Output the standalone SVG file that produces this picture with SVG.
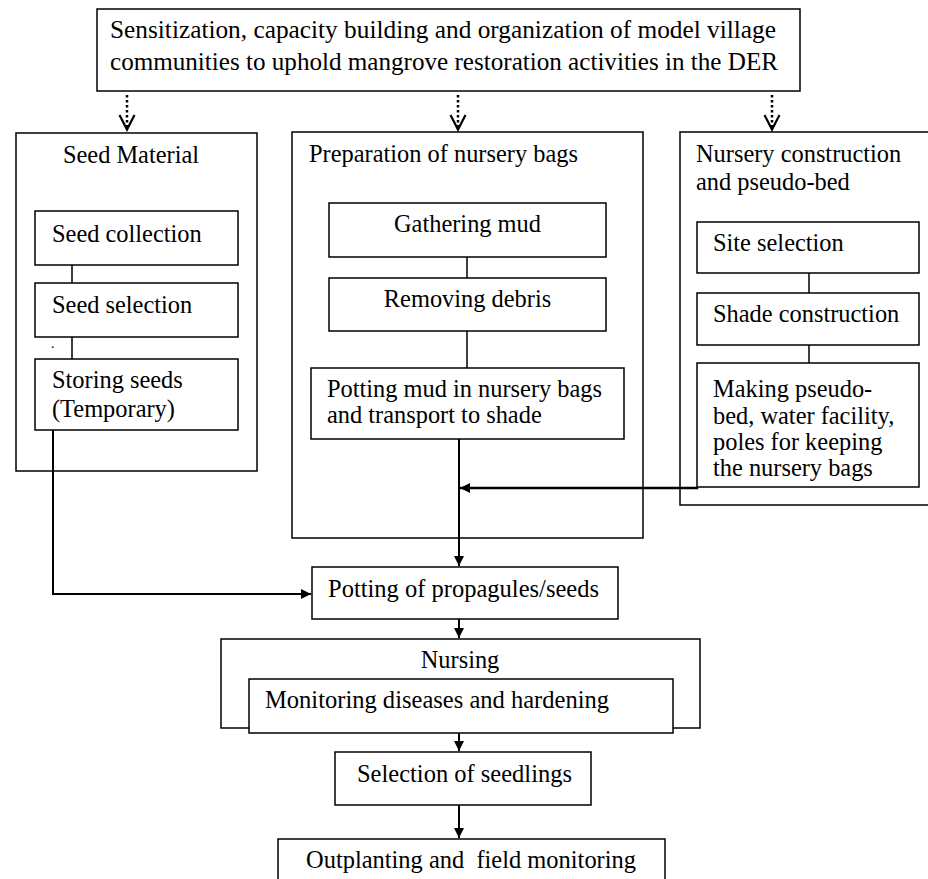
<svg xmlns="http://www.w3.org/2000/svg" width="928" height="879" viewBox="0 0 928 879">
<defs>
<marker id="ah" viewBox="0 0 10 10" refX="10" refY="5" markerWidth="13" markerHeight="10" markerUnits="userSpaceOnUse" orient="auto"><path d="M0,0 L10,5 L0,10 Z" fill="#000"/></marker>
</defs>
<style>
rect{fill:#fff;stroke:#000;stroke-width:1.5}
text{font-family:"Liberation Serif","Times New Roman",serif;font-size:24.4px;fill:#000}
.c{text-anchor:middle}
.ln{stroke:#000;stroke-width:1.5;fill:none}
.ar{stroke:#000;stroke-width:2;fill:none;marker-end:url(#ah)}
.dot{stroke:#000;stroke-width:2.5;stroke-dasharray:2.5 2.5;fill:none}
.v{stroke:#000;stroke-width:2.2;fill:none}
</style>
<rect width="928" height="879" style="fill:#fff;stroke:none"/>

<g id="top">
<rect x="97" y="9" width="703" height="82"/>
<text x="110" y="38" textLength="666" lengthAdjust="spacingAndGlyphs">Sensitization, capacity building and organization of model village</text>
<text x="110" y="70" textLength="668" lengthAdjust="spacingAndGlyphs">communities to uphold mangrove restoration activities in the DER</text>
</g>

<g id="seed-material">
<rect x="16" y="133" width="241" height="338"/>
<text x="131" y="163" class="c">Seed Material</text>
</g>
<g id="seed-collection">
<rect x="35" y="211" width="203" height="54"/>
<text x="52" y="242">Seed collection</text>
</g>
<g id="seed-selection">
<rect x="35" y="283" width="203" height="54"/>
<text x="52" y="313">Seed selection</text>
</g>
<text x="51" y="348" style="font-size:14px">.</text>
<g id="storing-seeds">
<rect x="35" y="359" width="203" height="71"/>
<text x="52" y="388">Storing seeds</text>
<text x="52" y="417">(Temporary)</text>
</g>

<g id="prep-bags">
<rect x="292" y="132" width="351" height="406"/>
<text x="309" y="162">Preparation of nursery bags</text>
</g>
<g id="gathering-mud">
<rect x="329" y="203" width="277" height="54"/>
<text x="467.5" y="232" class="c">Gathering mud</text>
</g>
<g id="removing-debris">
<rect x="329" y="278" width="277" height="53"/>
<text x="467.5" y="307" class="c">Removing debris</text>
</g>
<g id="potting-mud">
<rect x="311" y="368" width="313" height="71"/>
<text x="327" y="397">Potting mud in nursery bags</text>
<text x="327" y="423">and transport to shade</text>
</g>

<g id="nursery-construction">
<rect x="680" y="132" width="260" height="373"/>
<text x="696" y="162">Nursery construction</text>
<text x="696" y="190">and pseudo-bed</text>
</g>
<g id="site-selection">
<rect x="697" y="222" width="222" height="51"/>
<text x="713" y="251">Site selection</text>
</g>
<g id="shade-construction">
<rect x="697" y="293" width="222" height="52"/>
<text x="713" y="322">Shade construction</text>
</g>
<g id="making-pseudo-bed">
<rect x="697" y="363" width="222" height="124"/>
<text x="713" y="397">Making pseudo-</text>
<text x="713" y="424">bed, water facility,</text>
<text x="713" y="450">poles for keeping</text>
<text x="713" y="476">the nursery bags</text>
</g>

<g id="potting-propagules">
<rect x="312" y="567" width="306" height="52"/>
<text x="328" y="597" textLength="271" lengthAdjust="spacingAndGlyphs">Potting of propagules/seeds</text>
</g>

<g id="nursing">
<rect x="221" y="639" width="479" height="89"/>
<text x="460" y="668" class="c">Nursing</text>
</g>
<g id="monitoring">
<rect x="249" y="679" width="424" height="54"/>
<text x="265" y="708" textLength="344" lengthAdjust="spacingAndGlyphs">Monitoring diseases and hardening</text>
</g>

<g id="selection-seedlings">
<rect x="335" y="752" width="256" height="53"/>
<text x="357" y="782" textLength="215" lengthAdjust="spacingAndGlyphs">Selection of seedlings</text>
</g>

<g id="outplanting">
<rect x="278" y="839" width="387" height="60"/>
<text x="306" y="868" xml:space="preserve" textLength="330" lengthAdjust="spacingAndGlyphs">Outplanting and  field monitoring</text>
</g>

<g id="connectors">
<path class="dot" d="M127,95 V128"/>
<path class="v" d="M119.5,115 L127,129.5 L134.5,115"/>
<path class="dot" d="M458,95 V128"/>
<path class="v" d="M450.5,115 L458,129.5 L465.5,115"/>
<path class="dot" d="M772,95 V128"/>
<path class="v" d="M764.5,115 L772,129.5 L779.5,115"/>

<path class="ln" d="M72,265 V283"/>
<path class="ln" d="M72,337 V359"/>
<path class="ln" d="M467,257 V278"/>
<path class="ln" d="M467,331 V368"/>
<path class="ln" d="M809,273 V293"/>
<path class="ln" d="M809,345 V363"/>

<path class="ar" d="M53,430 V594 H311"/>
<path class="ar" d="M459,439 V566"/>
<path class="ar" style="stroke-width:2.5" d="M697,487 V488 H460"/>
<path class="ar" d="M459,619 V638"/>
<path class="ar" d="M459,733 V751"/>
<path class="ar" d="M459,805 V838"/>
</g>
</svg>
